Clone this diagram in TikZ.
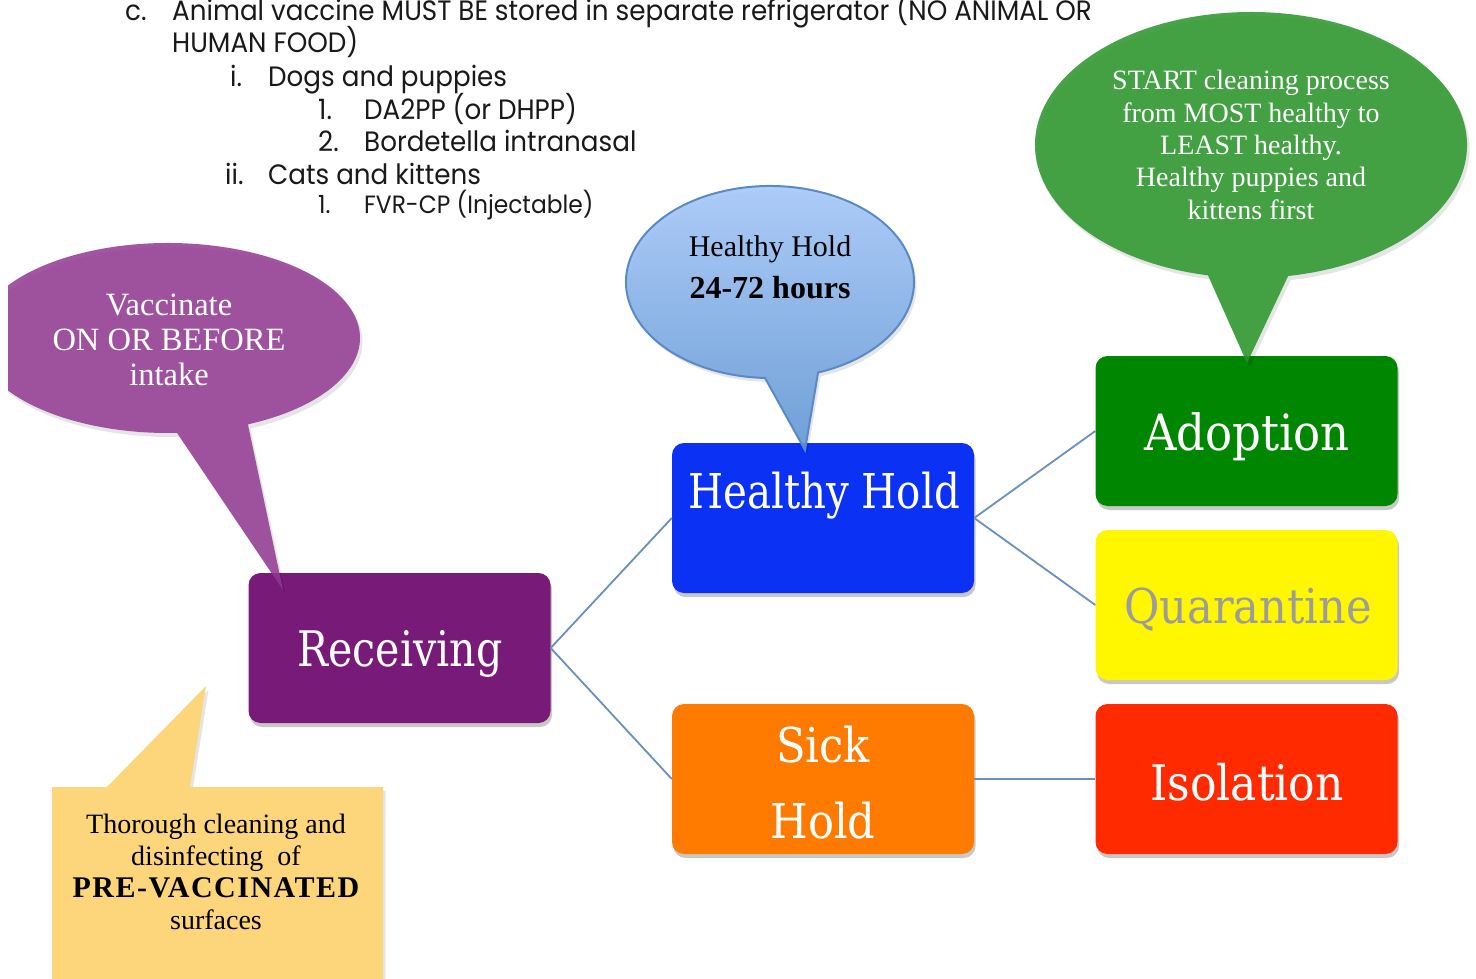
\documentclass[tikz,border=0pt]{standalone}
\usepackage{fontspec}
\setmainfont{Liberation Serif}
\newfontfamily\boxfont[FakeStretch=0.84]{DejaVu Serif}
\newfontfamily\boxfontw[FakeStretch=0.9]{DejaVu Serif}
\newfontfamily\topfont[FakeStretch=0.935]{Poppins}
\usetikzlibrary{shadows}
\definecolor{recvc}{HTML}{781A78}
\definecolor{hhc}{HTML}{0B31F5}
\definecolor{sickc}{HTML}{FF7B00}
\definecolor{adoptc}{HTML}{008600}
\definecolor{quarc}{HTML}{FFF700}
\definecolor{isoc}{HTML}{FF2A00}
\definecolor{connc}{HTML}{6B8FBF}
\definecolor{purpc}{RGB}{146,57,146}
\definecolor{greenc}{RGB}{39,148,39}
\definecolor{bluetop}{HTML}{AACBFB}
\definecolor{bluebot}{HTML}{6399D6}
\definecolor{bluebord}{HTML}{5A8AC6}
\definecolor{yellc}{HTML}{FDD57B}
\definecolor{quartext}{HTML}{9C9C9C}
\begin{document}
\begin{tikzpicture}[x=1pt,y=-1pt,
  boxst/.style={rounded corners=12pt, minimum width=302pt, minimum height=150pt,
    inner sep=0pt, text=white, align=center,
    drop shadow={shadow xshift=1.5pt, shadow yshift=-4pt, opacity=0.3, fill=black!70}},
  boxtext/.style={font=\boxfont\fontsize{48}{52}\selectfont},
  boxtextw/.style={font=\boxfontw\fontsize{48}{52}\selectfont},
  conn/.style={draw=connc, line width=1.8pt},
  toptext/.style={inner sep=0pt, anchor=base west, text=black!90, font=\topfont\fontsize{28}{30}\selectfont},
  callshadow/.style={drop shadow={shadow xshift=2.5pt, shadow yshift=-4pt, opacity=0.1, fill=black}},
  calltext/.style={inner sep=0pt, align=center},
]
\useasboundingbox (0,0) rectangle (1476,979);
\fill[white] (0,0) rectangle (1476,979);

% top text
\node[toptext] (c1) at (125,21) {c.};
\node[toptext] (c1t) at (172,21) {Animal vaccine MUST BE stored in separate refrigerator (NO ANIMAL OR};
\node[toptext] (c2t) at (172,53) {HUMAN FOOD)};
\node[toptext] (i1) at (230,87) {i.};
\node[toptext] (i1t) at (268,87) {Dogs and puppies};
\node[toptext] (n1) at (318,120) {1.};
\node[toptext] (n1t) at (364,120) {DA2PP (or DHPP)};
\node[toptext] (n2) at (318,152) {2.};
\node[toptext] (n2t) at (364,152) {Bordetella intranasal};
\node[toptext] (i2) at (225,185) {ii.};
\node[toptext] (i2t) at (268,185) {Cats and kittens};
\node[toptext, font=\topfont\fontsize{25}{28}\selectfont] (n3) at (318,214) {1.};
\node[toptext, font=\topfont\fontsize{25}{28}\selectfont] (n3t) at (364,214) {FVR-CP (Injectable)};

% boxes
\node[boxst, fill=recvc] (recv) at (399.5,648) {};
\node[boxst, fill=hhc] (hh) at (823,518) {};
\node[boxst, fill=sickc] (sick) at (823,779) {};
\node[boxst, fill=adoptc] (adopt) at (1246.5,431) {};
\node[boxst, fill=quarc] (quar) at (1246.5,605) {};
\node[boxst, fill=isoc] (iso) at (1246.5,779) {};

\node[boxtext, text=white, font=\boxfont\fontsize{49}{52}\selectfont] (recvt) at (400,654) {Receiving};
\node[boxtext, text=white] (hht) at (824,496) {Healthy Hold};
\node[boxtextw, text=white] (sickt1) at (823,745) {Sick};
\node[boxtextw, text=white] (sickt2) at (823,821) {Hold};
\node[boxtextw, text=white, font=\boxfontw\fontsize{50}{52}\selectfont] (adoptt) at (1247,437) {Adoption};
\node[boxtextw, text=quartext] (quart) at (1248,610) {Quarantine};
\node[boxtextw, text=white, font=\boxfontw\fontsize{49}{52}\selectfont] (isot) at (1247,782) {Isolation};

% connectors
\draw[conn] (recv.east) -- (hh.west);
\draw[conn] (recv.east) -- (sick.west);
\draw[conn] (hh.east) -- (adopt.west);
\draw[conn] (hh.east) -- (quar.west);
\draw[conn] (sick.east) -- (iso.west);

% purple callout
\begin{scope}
\clip (8,0) rectangle (1476,979);
\path[fill=purpc, fill opacity=0.85, callshadow]
  (168,338) ++(65.4:192 and 95) arc[start angle=65.4, end angle=-272.7, x radius=192, y radius=95]
  -- (283,590) -- cycle;
\end{scope}
\node[calltext, text=white, font=\fontsize{32.5}{35}\selectfont] (purt) at (169,340) {Vaccinate\\ON OR BEFORE\\intake};

% blue callout
\path[top color=bluetop, bottom color=bluebot, draw=bluebord, line width=2pt, fill opacity=0.9, callshadow]
  (770,282) ++(70.5:144 and 96) arc[start angle=70.5, end angle=-268, x radius=144, y radius=96]
  -- (805,450) -- cycle;
\node[calltext, text=black, font=\fontsize{30}{34}\selectfont] (bluet1) at (770,249) {Healthy Hold};
\node[calltext, text=black, font=\bfseries\fontsize{32}{34}\selectfont] (bluet2) at (770,288) {24-72 hours};

% green callout
\path[fill=greenc, fill opacity=0.85, callshadow]
  (1251,145) ++(80.1:216 and 133) arc[start angle=80.1, end angle=-258.5, x radius=216, y radius=133]
  -- (1247,363) -- cycle;
\node[calltext, text=white, font=\fontsize{28}{32.3}\selectfont] (greent) at (1251,145) {START cleaning process\\from MOST healthy to\\LEAST healthy.\\Healthy puppies and\\kittens first};

% yellow callout
\path[fill=yellc, callshadow]
  (52,787) -- (107,787) -- (206,686) -- (190,787) -- (383,787) -- (383,990) -- (52,990) -- cycle;
\node[calltext, text=black, font=\fontsize{28}{32}\selectfont] (yellt) at (216,872) {Thorough cleaning and\\disinfecting\ \ of\\{\bfseries\fontsize{30}{32}\selectfont\addfontfeature{LetterSpace=5}PRE-VACCINATED}\\surfaces};
\end{tikzpicture}
\end{document}
